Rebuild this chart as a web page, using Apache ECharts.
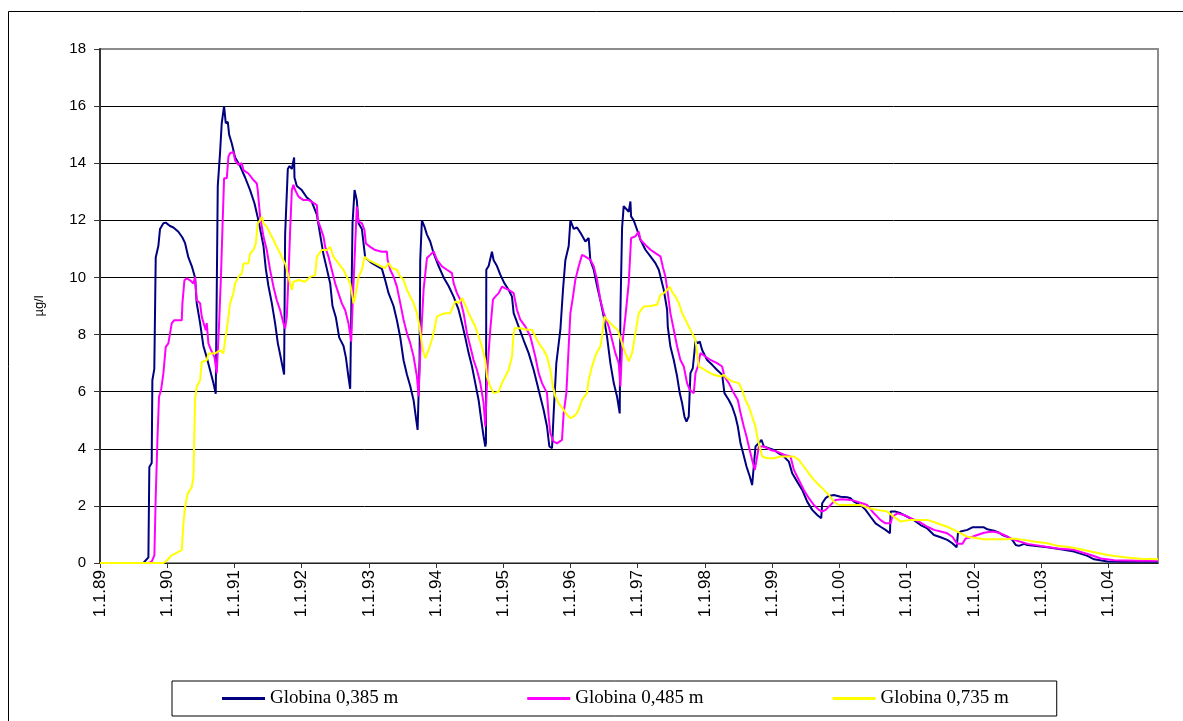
<!DOCTYPE html>
<html><head><meta charset="utf-8">
<script src="https://cdn.jsdelivr.net/npm/echarts@6/dist/echarts.min.js"></script>
<style>html,body{margin:0;padding:0;background:#fff}#c{width:1183px;height:721px}</style>
</head><body><div id="c"></div>
<script>
// x positions are in units of one tick interval (0 = 1.1.89, 15 = 1.1.04)
const xLabels = ['1.1.89','1.1.90','1.1.91','1.1.92','1.1.93','1.1.94','1.1.95','1.1.96','1.1.97','1.1.98','1.1.99','1.1.00','1.1.01','1.1.02','1.1.03','1.1.04'];
const seriesNames = ['Globina 0,385 m','Globina 0,485 m','Globina 0,735 m'];

const series385 = [[0,0],[0.645,0],[0.72,0.2],[0.734,3.36],[0.769,3.5],[0.779,6.4],[0.808,6.8],[0.829,10.7],[0.868,11.1],[0.893,11.7],[0.943,11.9],[0.978,11.92],[1.042,11.8],[1.092,11.75],[1.166,11.6],[1.226,11.4],[1.266,11.2],[1.315,10.7],[1.365,10.4],[1.414,10.0],[1.439,9.1],[1.489,8.4],[1.538,7.6],[1.588,7.2],[1.638,6.75],[1.687,6.3],[1.722,5.93],[1.752,13.2],[1.787,14.4],[1.811,15.4],[1.846,16.0],[1.871,15.4],[1.901,15.45],[1.921,15.0],[1.960,14.7],[2.010,14.2],[2.084,13.9],[2.159,13.5],[2.233,13.06],[2.298,12.6],[2.347,12.1],[2.382,11.7],[2.432,11.1],[2.467,10.3],[2.506,9.7],[2.556,9.1],[2.605,8.4],[2.645,7.7],[2.680,7.3],[2.705,7.0],[2.739,6.6],[2.754,11.5],[2.794,13.8],[2.819,13.9],[2.854,13.8],[2.888,14.2],[2.893,13.5],[2.928,13.2],[3.002,13.06],[3.077,12.8],[3.151,12.65],[3.226,12.2],[3.275,11.5],[3.325,10.8],[3.375,10.3],[3.424,9.8],[3.459,9.0],[3.509,8.6],[3.558,7.9],[3.623,7.6],[3.658,7.2],[3.697,6.5],[3.722,6.1],[3.747,6.08],[3.757,11.9],[3.787,13.06],[3.806,13.06],[3.821,12.7],[3.846,11.9],[3.896,11.7],[3.945,10.7],[4.045,10.5],[4.194,10.3],[4.243,9.9],[4.293,9.45],[4.367,9.0],[4.417,8.5],[4.467,7.9],[4.516,7.1],[4.566,6.6],[4.615,6.2],[4.665,5.7],[4.705,5.0],[4.725,4.66],[4.754,7.1],[4.764,10.6],[4.789,12.0],[4.824,11.8],[4.864,11.5],[4.913,11.26],[4.963,10.85],[5.037,10.4],[5.112,10.0],[5.186,9.7],[5.261,9.33],[5.335,8.87],[5.385,8.4],[5.434,7.9],[5.484,7.35],[5.533,6.9],[5.583,6.3],[5.633,5.7],[5.672,5.0],[5.707,4.43],[5.732,4.08],[5.742,4.2],[5.747,10.27],[5.782,10.4],[5.831,10.9],[5.856,10.6],[5.906,10.4],[5.955,10.1],[6.015,9.8],[6.079,9.57],[6.129,9.33],[6.154,8.75],[6.228,8.28],[6.303,7.8],[6.377,7.35],[6.452,6.76],[6.526,6.06],[6.600,5.36],[6.650,4.78],[6.685,4.08],[6.725,4.02],[6.749,5.24],[6.789,7.0],[6.849,8.17],[6.888,9.57],[6.923,10.6],[6.973,11.1],[6.998,12.0],[7.047,11.7],[7.097,11.75],[7.146,11.57],[7.221,11.26],[7.270,11.38],[7.295,10.6],[7.345,10.27],[7.395,9.7],[7.444,9.2],[7.494,8.63],[7.543,7.93],[7.593,7.0],[7.643,6.3],[7.692,5.83],[7.732,5.24],[7.742,8.75],[7.767,11.73],[7.791,12.5],[7.866,12.3],[7.891,12.66],[7.901,12.14],[7.940,12.0],[7.990,11.67],[8.040,11.32],[8.114,10.97],[8.189,10.74],[8.263,10.5],[8.313,10.27],[8.387,9.57],[8.437,8.87],[8.447,8.28],[8.486,7.58],[8.536,7.11],[8.586,6.53],[8.625,5.95],[8.660,5.6],[8.695,5.13],[8.725,4.95],[8.759,5.13],[8.784,6.65],[8.819,6.82],[8.844,6.88],[8.859,7.76],[8.893,7.7],[8.923,7.76],[8.958,7.46],[9.032,7.11],[9.107,6.94],[9.181,6.76],[9.256,6.59],[9.290,5.95],[9.355,5.71],[9.404,5.48],[9.454,5.13],[9.489,4.78],[9.529,4.19],[9.568,3.84],[9.618,3.38],[9.667,3.03],[9.702,2.73],[9.727,2.67],[9.752,4.08],[9.801,4.2],[9.841,4.31],[9.876,4.08],[9.950,4.02],[10.025,3.96],[10.099,3.84],[10.174,3.73],[10.248,3.55],[10.298,3.14],[10.372,2.85],[10.447,2.56],[10.521,2.15],[10.596,1.86],[10.670,1.68],[10.730,1.57],[10.744,2.09],[10.794,2.27],[10.844,2.35],[10.918,2.38],[11.017,2.32],[11.117,2.3],[11.166,2.27],[11.216,2.15],[11.315,2.03],[11.390,1.86],[11.464,1.62],[11.538,1.39],[11.613,1.27],[11.687,1.16],[11.752,1.04],[11.762,1.8],[11.836,1.8],[11.911,1.74],[12.010,1.62],[12.109,1.5],[12.208,1.33],[12.308,1.21],[12.407,0.98],[12.506,0.9],[12.605,0.81],[12.68,0.69],[12.744,0.55],[12.764,1.04],[12.804,1.1],[12.903,1.16],[12.978,1.25],[13.151,1.25],[13.201,1.18],[13.30,1.13],[13.375,1.06],[13.424,0.98],[13.499,0.92],[13.573,0.81],[13.623,0.63],[13.672,0.6],[13.747,0.67],[13.797,0.63],[13.896,0.6],[14.094,0.55],[14.293,0.48],[14.491,0.4],[14.690,0.25],[14.789,0.13],[14.988,0.05],[15.236,0.04],[15.74,0.04]];

const series485 = [[0,0],[0.72,0],[0.769,0.05],[0.809,0.27],[0.829,2.31],[0.854,4.3],[0.878,5.82],[0.908,6.05],[0.943,6.64],[0.978,7.57],[1.017,7.69],[1.067,8.39],[1.102,8.5],[1.216,8.5],[1.226,9.09],[1.256,9.9],[1.290,9.97],[1.340,9.9],[1.390,9.79],[1.414,10.02],[1.439,9.2],[1.489,9.1],[1.514,8.62],[1.573,8.15],[1.588,8.4],[1.613,7.69],[1.653,7.45],[1.702,7.22],[1.737,6.64],[1.772,8.39],[1.801,10.14],[1.821,11.66],[1.846,13.47],[1.886,13.47],[1.911,14.23],[1.935,14.35],[1.985,14.4],[2.010,14.1],[2.060,13.94],[2.109,14.0],[2.134,13.76],[2.208,13.64],[2.283,13.41],[2.333,13.29],[2.347,13.06],[2.382,12.13],[2.432,11.43],[2.481,10.96],[2.531,10.26],[2.581,9.67],[2.630,9.2],[2.680,8.85],[2.730,8.39],[2.754,8.21],[2.779,8.62],[2.804,10.02],[2.829,11.66],[2.854,13.06],[2.878,13.24],[2.903,13.06],[2.953,12.83],[3.027,12.71],[3.102,12.71],[3.151,12.65],[3.226,12.53],[3.241,12.0],[3.275,11.78],[3.325,11.43],[3.350,11.07],[3.400,10.72],[3.449,10.26],[3.499,9.79],[3.548,9.44],[3.598,9.09],[3.648,8.85],[3.697,8.39],[3.737,7.75],[3.757,8.97],[3.797,11.19],[3.821,12.48],[3.846,11.95],[3.896,11.9],[3.935,11.66],[3.955,11.19],[4.020,11.07],[4.094,10.96],[4.194,10.9],[4.268,10.91],[4.278,10.62],[4.318,10.27],[4.367,10.03],[4.417,9.68],[4.467,9.1],[4.516,8.52],[4.566,8.05],[4.615,7.7],[4.665,7.23],[4.715,6.53],[4.74,5.83],[4.764,7.35],[4.814,9.57],[4.864,10.68],[4.913,10.79],[4.963,10.91],[5.012,10.62],[5.087,10.39],[5.161,10.27],[5.236,10.15],[5.261,9.8],[5.310,9.45],[5.360,9.22],[5.409,8.75],[5.459,8.05],[5.509,7.58],[5.558,7.11],[5.608,6.76],[5.658,6.3],[5.707,5.6],[5.732,4.78],[5.747,5.7],[5.767,6.88],[5.806,8.17],[5.846,9.22],[5.881,9.33],[5.931,9.45],[5.980,9.68],[6.030,9.62],[6.079,9.57],[6.154,9.45],[6.203,8.87],[6.253,8.52],[6.328,8.28],[6.402,7.93],[6.476,7.23],[6.526,6.65],[6.576,6.3],[6.650,5.95],[6.675,5.13],[6.700,4.54],[6.749,4.25],[6.799,4.19],[6.873,4.31],[6.898,5.25],[6.938,5.95],[6.973,7.58],[6.998,8.75],[7.037,9.33],[7.072,9.92],[7.122,10.39],[7.171,10.79],[7.221,10.73],[7.295,10.62],[7.345,10.39],[7.395,9.92],[7.444,9.22],[7.494,8.75],[7.568,8.28],[7.618,7.82],[7.667,7.35],[7.717,7.0],[7.742,6.18],[7.767,7.58],[7.816,8.63],[7.866,9.8],[7.901,11.38],[7.965,11.44],[8.015,11.61],[8.040,11.32],[8.114,11.14],[8.189,10.97],[8.263,10.85],[8.337,10.74],[8.377,10.33],[8.412,10.03],[8.447,9.45],[8.486,8.75],[8.536,8.17],[8.586,7.58],[8.635,7.11],[8.685,6.88],[8.734,6.3],[8.774,6.06],[8.834,5.95],[8.859,6.65],[8.893,6.88],[8.933,7.35],[9.007,7.23],[9.082,7.11],[9.181,7.0],[9.256,6.88],[9.290,6.53],[9.355,6.3],[9.429,5.95],[9.489,5.71],[9.529,5.25],[9.578,4.78],[9.618,4.43],[9.653,4.08],[9.702,3.61],[9.742,3.26],[9.777,3.73],[9.801,4.08],[9.876,4.08],[9.975,3.96],[10.074,3.9],[10.174,3.79],[10.273,3.73],[10.323,3.26],[10.397,2.91],[10.471,2.56],[10.546,2.27],[10.620,2.03],[10.695,1.86],[10.744,1.8],[10.794,1.86],[10.868,2.03],[10.943,2.21],[11.042,2.23],[11.166,2.21],[11.266,2.15],[11.414,2.03],[11.514,1.74],[11.613,1.5],[11.687,1.39],[11.762,1.39],[11.787,1.62],[11.861,1.74],[11.960,1.68],[12.060,1.57],[12.184,1.45],[12.308,1.27],[12.407,1.16],[12.506,1.1],[12.605,1.04],[12.68,0.92],[12.754,0.67],[12.829,0.67],[12.878,0.86],[12.978,0.92],[13.052,0.98],[13.151,1.06],[13.275,1.1],[13.375,1.06],[13.449,0.98],[13.549,0.86],[13.648,0.78],[13.797,0.67],[13.995,0.6],[14.243,0.51],[14.491,0.46],[14.74,0.28],[14.89,0.16],[15.087,0.1],[15.484,0.08],[15.74,0.08]];

const series735 = [[0,0],[0.943,0],[0.993,0.09],[1.067,0.27],[1.166,0.39],[1.216,0.45],[1.241,1.38],[1.266,1.96],[1.305,2.43],[1.365,2.66],[1.390,3.01],[1.414,5.7],[1.439,6.17],[1.489,6.4],[1.514,7.04],[1.588,7.1],[1.613,7.34],[1.712,7.34],[1.787,7.45],[1.836,7.34],[1.861,7.8],[1.886,8.15],[1.935,9.09],[1.985,9.44],[2.010,9.79],[2.060,10.02],[2.109,10.14],[2.134,10.49],[2.208,10.49],[2.233,10.84],[2.283,10.96],[2.318,11.19],[2.347,11.89],[2.382,12.0],[2.407,12.13],[2.432,11.89],[2.481,11.78],[2.531,11.54],[2.581,11.31],[2.630,11.07],[2.705,10.72],[2.764,10.43],[2.804,10.02],[2.854,9.56],[2.878,9.85],[2.953,9.91],[3.052,9.85],[3.127,10.02],[3.201,10.08],[3.226,10.72],[3.300,10.96],[3.375,10.96],[3.424,11.07],[3.474,10.72],[3.548,10.49],[3.623,10.26],[3.672,10.02],[3.722,9.79],[3.757,9.32],[3.772,9.09],[3.797,9.32],[3.846,10.02],[3.896,10.26],[3.935,10.72],[3.995,10.61],[4.094,10.49],[4.194,10.37],[4.243,10.33],[4.293,10.5],[4.342,10.33],[4.417,10.27],[4.467,10.03],[4.516,9.92],[4.566,9.57],[4.615,9.33],[4.665,9.1],[4.715,8.75],[4.754,8.28],[4.774,7.93],[4.804,7.46],[4.839,7.17],[4.888,7.46],[4.938,7.82],[4.973,8.17],[5.012,8.63],[5.062,8.69],[5.136,8.75],[5.211,8.75],[5.251,8.98],[5.285,9.16],[5.335,9.1],[5.385,9.28],[5.434,9.04],[5.484,8.75],[5.533,8.52],[5.583,8.28],[5.633,7.93],[5.682,7.58],[5.732,7.11],[5.757,6.53],[5.806,6.18],[5.856,5.95],[5.931,6.0],[5.980,6.3],[6.030,6.53],[6.079,6.76],[6.129,7.23],[6.154,8.05],[6.169,8.22],[6.253,8.22],[6.352,8.17],[6.427,8.17],[6.476,7.93],[6.526,7.7],[6.600,7.46],[6.650,7.23],[6.700,6.76],[6.739,6.18],[6.774,5.83],[6.824,5.6],[6.898,5.36],[6.948,5.19],[6.998,5.07],[7.047,5.13],[7.097,5.25],[7.136,5.48],[7.171,5.71],[7.246,5.95],[7.270,6.41],[7.320,6.88],[7.385,7.35],[7.444,7.58],[7.469,7.93],[7.504,8.63],[7.543,8.52],[7.593,8.4],[7.643,8.28],[7.702,8.17],[7.742,7.87],[7.782,7.58],[7.816,7.35],[7.866,7.06],[7.916,7.35],[7.965,8.05],[8.015,8.75],[8.089,8.98],[8.189,9.0],[8.288,9.04],[8.337,9.39],[8.387,9.45],[8.437,9.57],[8.476,9.68],[8.511,9.5],[8.561,9.33],[8.611,9.1],[8.660,8.75],[8.710,8.52],[8.759,8.28],[8.809,8.05],[8.859,7.82],[8.883,7.35],[8.908,6.88],[8.958,6.82],[9.032,6.71],[9.132,6.59],[9.231,6.53],[9.280,6.59],[9.330,6.47],[9.404,6.36],[9.504,6.3],[9.553,6.06],[9.603,5.71],[9.653,5.48],[9.702,5.13],[9.752,4.78],[9.777,4.43],[9.801,4.19],[9.851,3.73],[9.926,3.67],[10.025,3.67],[10.124,3.73],[10.323,3.73],[10.397,3.61],[10.471,3.38],[10.546,3.14],[10.620,2.91],[10.695,2.73],[10.769,2.56],[10.844,2.38],[10.918,2.15],[10.993,2.03],[11.315,2.03],[11.439,1.92],[11.563,1.86],[11.712,1.8],[11.811,1.62],[11.911,1.45],[12.060,1.51],[12.308,1.51],[12.457,1.39],[12.506,1.35],[12.605,1.27],[12.704,1.16],[12.804,1.04],[12.903,0.92],[13.151,0.83],[13.499,0.83],[13.573,0.86],[13.747,0.81],[13.896,0.75],[14.094,0.69],[14.243,0.6],[14.442,0.55],[14.590,0.48],[14.74,0.4],[14.988,0.28],[15.236,0.2],[15.484,0.15],[15.74,0.13]];

const xTickValues = xLabels.map((_, i) => i);
const colors = ['#000080', '#FF00FF', '#FFFF00'];

const chart = echarts.init(document.getElementById('c'), null, {renderer: 'canvas'});
chart.setOption({
  animation: false,
  backgroundColor: '#fff',
  graphic: [{
    type: 'rect', shape: {x: 8.5, y: 11.5, width: 1300, height: 900},
    style: {fill: 'none', stroke: '#000', lineWidth: 1}, z: -1
  }],
  grid: {left: 100, right: 25, top: 49, bottom: 158, show: true, borderColor: '#8c8c8c', borderWidth: 2, backgroundColor: 'transparent'},
  legend: {
    left: 172, top: 681,
    data: seriesNames,
    icon: 'rect', itemWidth: 43, itemHeight: 3, itemGap: 129,
    padding: [8, 48, 8, 50],
    borderColor: '#000', borderWidth: 1,
    textStyle: {fontFamily: '"Liberation Serif", "Times New Roman", serif', fontSize: 19, color: '#000'}
  },
  xAxis: {
    type: 'value', min: 0, max: 15.74,
    axisLine: {show: true, onZero: false, lineStyle: {color: '#222', width: 1}},
    axisTick: {show: true, customValues: xTickValues, length: 5, lineStyle: {color: '#333'}},
    axisLabel: {
      customValues: xTickValues, rotate: 90, margin: 7,
      fontFamily: '"Liberation Sans", Arial, sans-serif', fontSize: 17, color: '#000',
      formatter: v => xLabels[Math.round(v)]
    },
    splitLine: {show: false}
  },
  yAxis: {
    type: 'value', min: 0, max: 18, interval: 2,
    name: 'µg/l', nameLocation: 'middle', nameGap: 54, nameRotate: 90,
    nameTextStyle: {fontFamily: '"Liberation Sans", Arial, sans-serif', fontSize: 13, color: '#000'},
    axisLine: {show: true, lineStyle: {color: '#333', width: 2}},
    axisTick: {show: true, length: 6, lineStyle: {color: '#333'}},
    axisLabel: {margin: 14, fontFamily: '"Liberation Sans", Arial, sans-serif', fontSize: 15, color: '#000'},
    splitLine: {show: true, showMaxLine: false, lineStyle: {color: '#000', width: 1}}
  },
  series: [
    {name: seriesNames[0], type: 'line', data: series385, showSymbol: false, color: colors[0], lineStyle: {width: 2, color: colors[0]}, z: 2},
    {name: seriesNames[1], type: 'line', data: series485, showSymbol: false, color: colors[1], lineStyle: {width: 2, color: colors[1]}, z: 3},
    {name: seriesNames[2], type: 'line', data: series735, showSymbol: false, color: colors[2], lineStyle: {width: 2, color: colors[2]}, z: 4}
  ]
});
</script></body></html>
